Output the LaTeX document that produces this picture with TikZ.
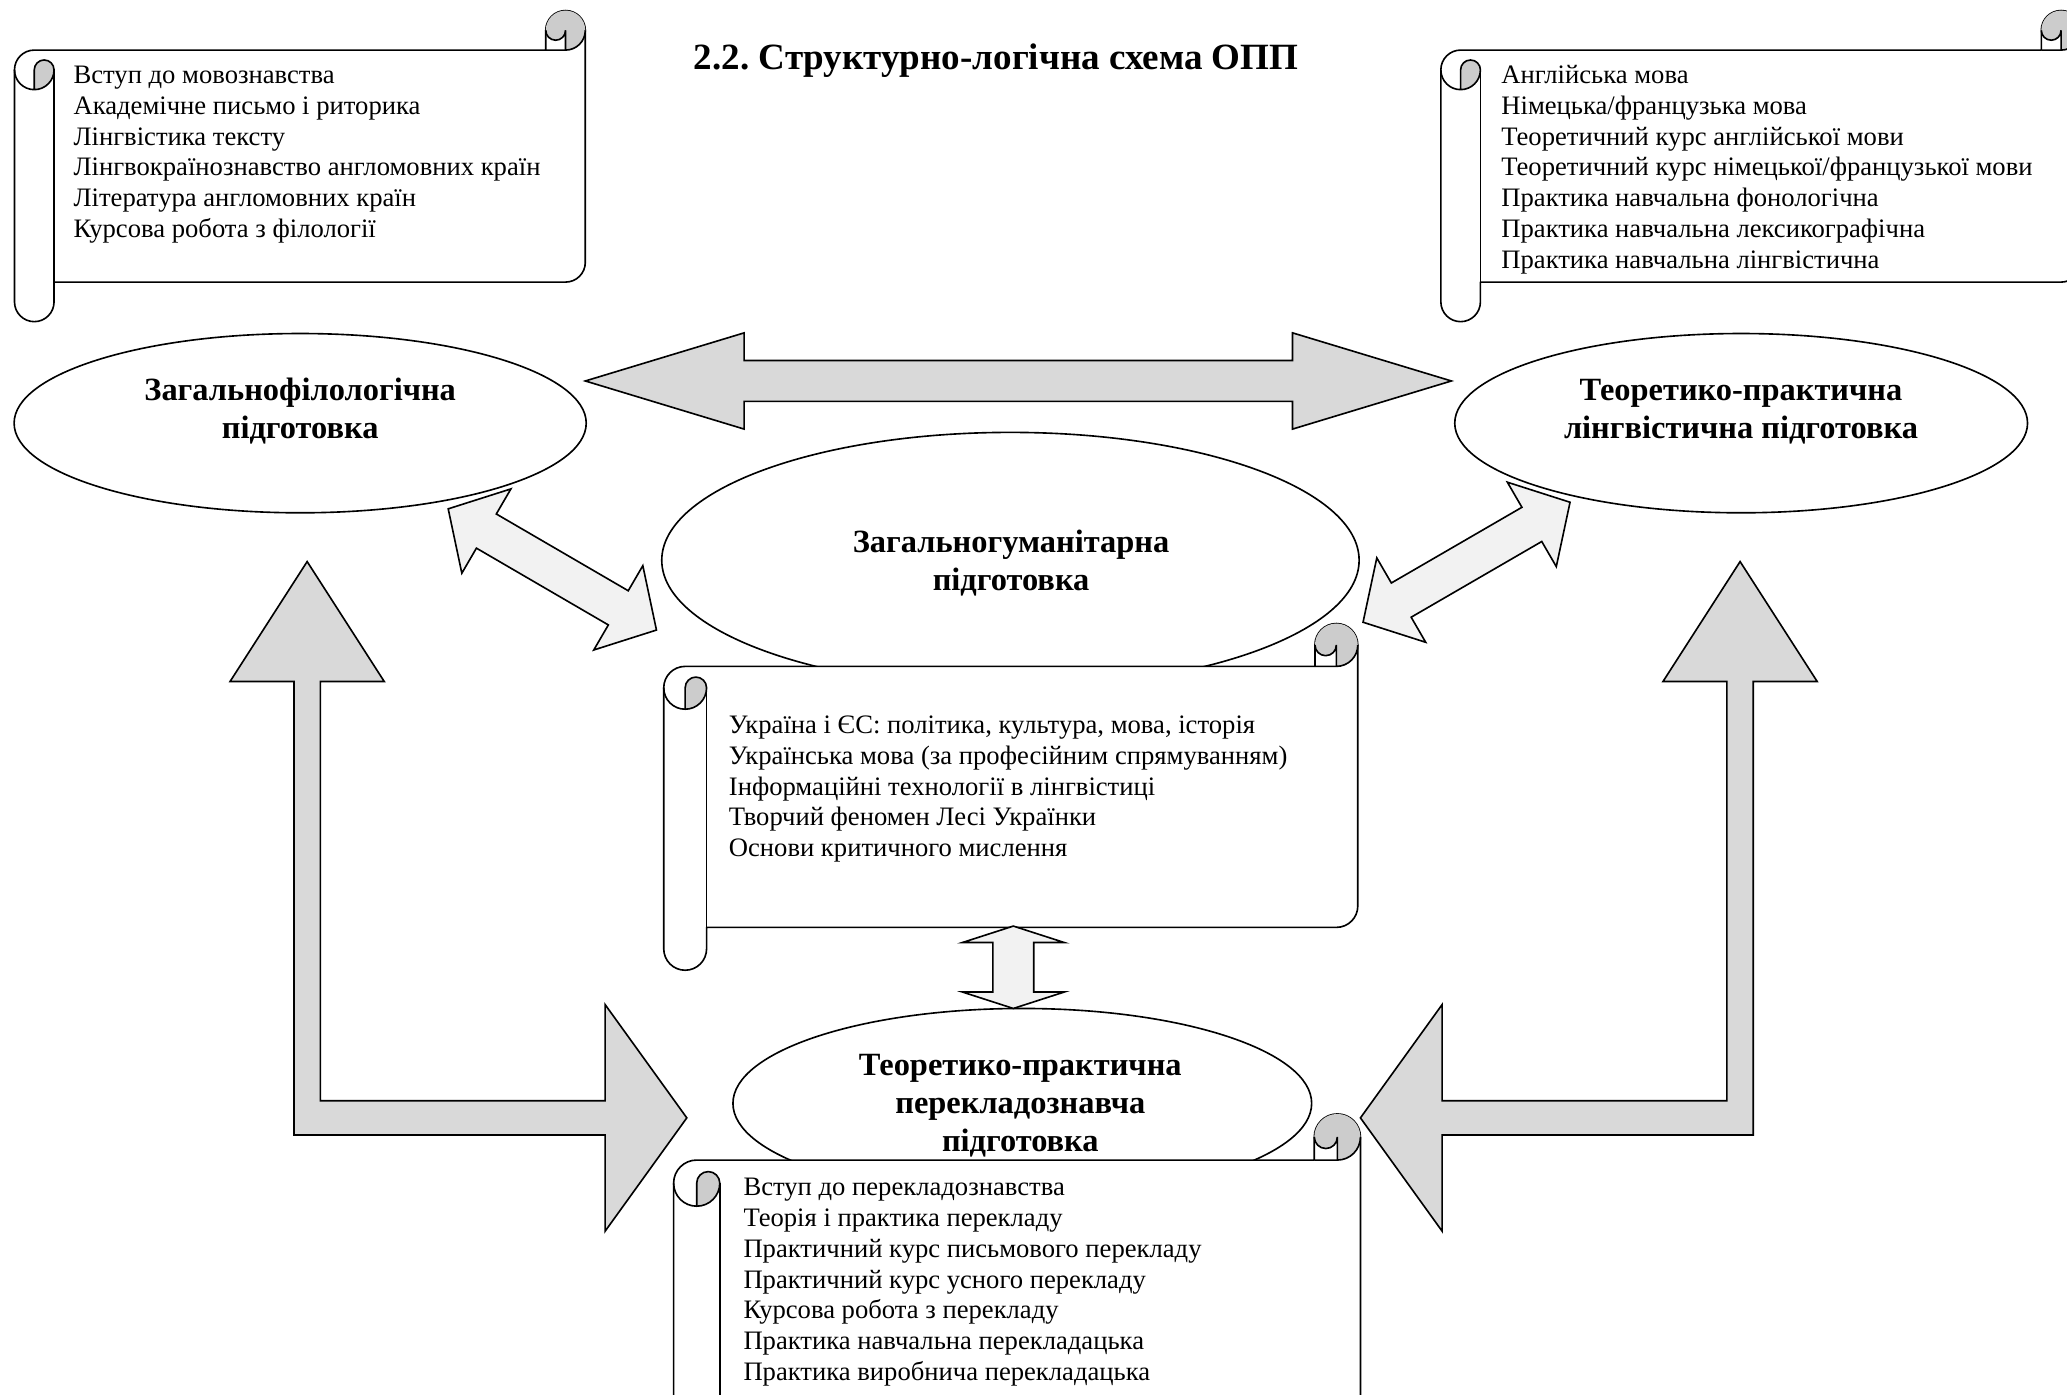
\documentclass[tikz,border=0pt]{standalone}
\usepackage{fontspec}
\setmainfont{Liberation Serif}
\frenchspacing
\usetikzlibrary{shapes.geometric,calc}

% scroll sheet: left, top, right, bottom, roll size
\newcommand\scrollsheet[5]{%
  \pgfmathsetmacro\sclh{#5/2}%
  \pgfmathsetmacro\sclq{#5/4}%
  \filldraw[sheet] (#1,#2+#5+\sclh) arc[start angle=180,delta angle=90,radius=\sclh]
    -- (#3-#5,#2+#5) -- (#3-#5,#2+\sclh) arc[start angle=180,delta angle=180,radius=\sclh]
    -- (#3,#4-#5-\sclh) arc[start angle=0,delta angle=90,radius=\sclh]
    -- (#1+#5,#4-#5) -- (#1+#5,#4-\sclh) arc[start angle=0,delta angle=180,radius=\sclh]
    -- cycle;
  \fill[curl] (#1+\sclh,#2+2*#5) arc[start angle=90,delta angle=-90,radius=\sclh]
    arc[start angle=0,delta angle=-180,radius=\sclq] -- cycle;
  \fill[curl] (#3-\sclh,#2+#5) arc[start angle=90,delta angle=-270,radius=\sclh]
    arc[start angle=180,delta angle=-180,radius=\sclq] -- cycle;
  \draw[rim] (#3-#5,#2+#5) -- (#3-\sclh,#2+#5) arc[start angle=90,delta angle=-90,radius=\sclh];
  \draw[rim] (#3-\sclh,#2+#5) -- (#3-\sclh,#2+\sclh) arc[start angle=0,delta angle=180,radius=\sclq];
  \draw[rim] (#1+\sclh,#2+2*#5) -- (#1+\sclh,#2+#5+\sclh) arc[start angle=180,delta angle=180,radius=\sclq]
    arc[start angle=0,delta angle=180,radius=\sclh];
  \draw[rim] (#1+#5,#2+#5+\sclh) -- (#1+#5,#4-#5);
}

% block double arrow: style, start, angle, length, head length, head half width, shaft half width
\newcommand\dblarrow[7]{%
  \filldraw[#1,shift={(#2)},rotate=#3] (0,0) -- (#5,#6) -- (#5,#7) -- (#4-#5,#7) -- (#4-#5,#6) -- (#4,0)
    -- (#4-#5,-#6) -- (#4-#5,-#7) -- (#5,-#7) -- (#5,-#6) -- cycle;
}

\begin{document}
\begin{tikzpicture}[
    x=0.02cm,
    y=-0.02cm,
    line width=0.7pt,
    sheet/.style={
        draw,
        fill=white,
        line join=round
    },
    rim/.style={
        draw
    },
    curl/.style={
        fill=gray!40
    },
    oval/.style 2 args={
        ellipse,
        draw,
        fill=white,
        inner sep=0pt,
        minimum width=#1*0.02cm,
        minimum height=#2*0.02cm
    },
    heading/.style={
        font=\fontsize{14}{16.4}\selectfont\bfseries,
        align=center,
        inner sep=0pt
    },
    courses/.style={
        font=\fontsize{11.5}{13.3}\selectfont,
        align=left,
        anchor=north west,
        inner sep=0pt
    },
    darkarrow/.style={
        draw,
        fill=gray!30,
        line join=miter
    },
    palearrow/.style={
        draw,
        fill=gray!10,
        line join=miter
    }
]

\useasboundingbox (0,0) rectangle (1568,1058);
\clip (0,0) rectangle (1568,1058);

%-------------------------------------------------
% Ellipses
%-------------------------------------------------

\node[oval={434}{136}] (filo) at (227.7,321) {};
\node[oval={434.5}{136}] (ling) at (1320.8,321) {};
\node[oval={529}{194}] (hum) at (766.5,425) {};
\node[oval={439}{144}] (trans) at (775.5,837) {};

%-------------------------------------------------
% Scrolls
%-------------------------------------------------

\scrollsheet{11}{8}{444}{244}{30}
\scrollsheet{1093}{8}{1578.5}{244}{30}
\scrollsheet{503.5}{473}{1030}{736}{32.5}
\scrollsheet{511}{845}{1032}{1125}{35}

%-------------------------------------------------
% Block arrows
%-------------------------------------------------

\coordinate (hz) at (444,289);
\dblarrow{darkarrow}{hz}{0}{657}{120.5}{36.5}{15.5}

\coordinate (dl) at (340,386);
\dblarrow{palearrow}{dl}{-30.2}{182.8}{33.5}{37}{15}

\coordinate (dr) at (1191,381);
\dblarrow{palearrow}{dr}{210.1}{181.5}{33.5}{37}{15}

\coordinate (vt) at (768.7,702.5);
\dblarrow{palearrow}{vt}{-90}{62.5}{12.5}{38.7}{15.5}

\filldraw[darkarrow] (233,426) -- (291.5,517) -- (243,517) -- (243,835) -- (459,835)
    -- (459,762) -- (521,848) -- (459,934) -- (459,861) -- (223,861) -- (223,517)
    -- (174.5,517) -- cycle;
\filldraw[darkarrow] (1320,426) -- (1378.5,517) -- (1330,517) -- (1330,861) -- (1094,861)
    -- (1094,934) -- (1032,848) -- (1094,762) -- (1094,835) -- (1310,835) -- (1310,517)
    -- (1261.5,517) -- cycle;

%-------------------------------------------------
% Texts
%-------------------------------------------------

\node[anchor=base,inner sep=0pt,font=\fontsize{16}{19}\selectfont\bfseries] (title)
at (755.7,52.6) {2.2. Структурно-логічна схема ОПП};

\node[heading] (filo-t) at (227.7,311.5) {Загальнофілологічна\\підготовка};
\node[heading] (ling-t) at (1320.7,312) {Теоретико-практична\\лінгвістична підготовка};
\node[heading] (hum-t) at (767,427) {Загальногуманітарна\\підготовка};
\node[heading] (trans-t) at (774,839) {Теоретико-практична\\перекладознавча\\підготовка};

\node[courses] (filo-c) at (55.2,46.3)
{\strut Вступ до мовознавства\\
Академічне письмо і риторика\\
Лінгвістика тексту\\
Лінгвокраїнознавство англомовних країн\\
Література англомовних країн\\
Курсова робота з філології};

\node[courses] (ling-c) at (1138.3,46.3)
{\strut Англійська мова\\
Німецька/французька мова\\
Теоретичний курс англійської мови\\
Теоретичний курс німецької/французької мови\\
Практика навчальна фонологічна\\
Практика навчальна лексикографічна\\
Практика навчальна лінгвістична};

\node[courses] (hum-c) at (552.3,539.4)
{\strut Україна і ЄС: політика, культура, мова, історія\\
Українська мова (за професійним спрямуванням)\\
Інформаційні технології в лінгвістиці\\
Творчий феномен Лесі Українки\\
Основи критичного мислення};

\node[courses] (trans-c) at (563.4,890.1)
{\strut Вступ до перекладознавства\\
Теорія і практика перекладу\\
Практичний курс письмового перекладу\\
Практичний курс усного перекладу\\
Курсова робота з перекладу\\
Практика навчальна перекладацька\\
Практика виробнича перекладацька};

\end{tikzpicture}
\end{document}
